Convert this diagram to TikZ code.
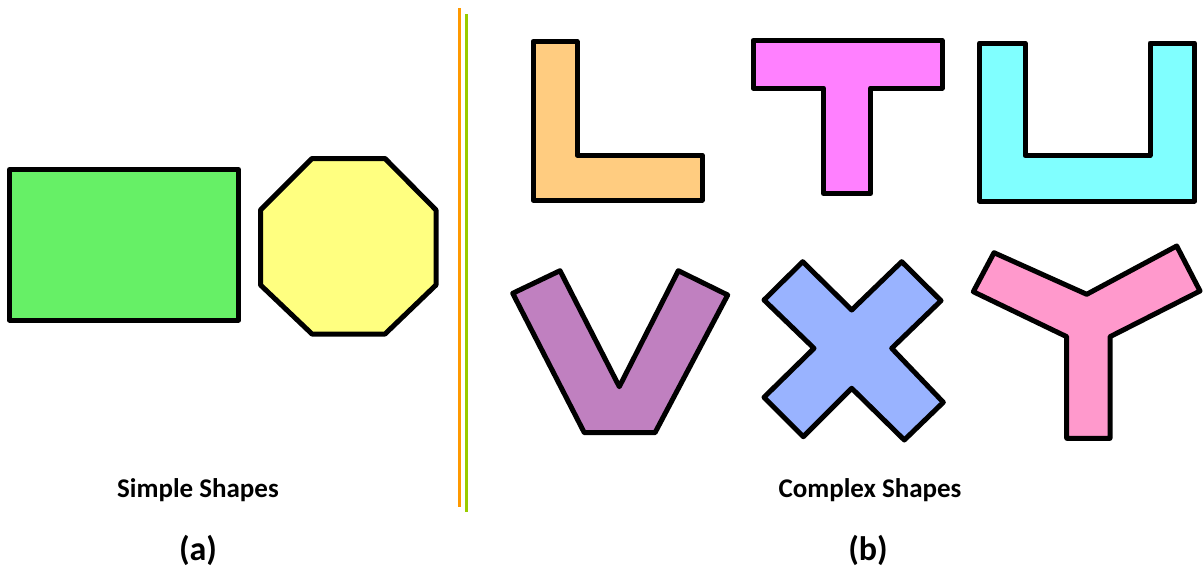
\documentclass[tikz,border=0pt]{standalone}
\usepackage{fontspec}
\setmainfont{Carlito}
\definecolor{cgreen}{HTML}{66F066}
\definecolor{cyellow}{HTML}{FFFF80}
\definecolor{corange}{HTML}{FFCC80}
\definecolor{cmagenta}{HTML}{FF80FF}
\definecolor{ccyan}{HTML}{80FFFF}
\definecolor{cpurple}{HTML}{C080C0}
\definecolor{cblue}{HTML}{99B3FF}
\definecolor{cpink}{HTML}{FF99CC}
\definecolor{lorange}{HTML}{FF9900}
\definecolor{lgreen}{HTML}{99CC00}
\tikzset{
  shp/.style={draw=black, line width=2.5pt, line join=round},
  lbl/.style={font=\bfseries\fontsize{13.5}{16}\selectfont, inner sep=0pt, anchor=center},
  sublbl/.style={font=\bfseries\fontsize{17}{20}\selectfont, inner sep=0pt, anchor=center}
}
\begin{document}
\begin{tikzpicture}[x=0.5pt,y=-0.5pt]
\path[use as bounding box] (0,0) rectangle (1203,573);
% simple shapes
\draw[shp, fill=cgreen] (9.5,169.5) rectangle (238.5,320);
\draw[shp, fill=cyellow] (312,158.5) -- (385,158.5) -- (436,210) -- (436,285) -- (385,334) -- (312,334) -- (260.5,285) -- (260.5,210) -- cycle;
% separator lines
\draw[lorange, line width=1.6pt] (459.5,8) -- (459.5,507);
\draw[lgreen, line width=1.6pt] (466.5,14) -- (466.5,512);
% L
\draw[shp, fill=corange] (533,41.5) -- (577,41.5) -- (577,155) -- (702,155) -- (702,200) -- (533,200) -- cycle;
% T
\draw[shp, fill=cmagenta] (753,40.5) -- (942,40.5) -- (942,88) -- (870.5,88) -- (870.5,193.5) -- (823.5,193.5) -- (823.5,88) -- (753,88) -- cycle;
% U
\draw[shp, fill=ccyan] (979.5,43) -- (1025,43) -- (1025,155.5) -- (1150,155.5) -- (1150,43) -- (1194.5,43) -- (1194.5,201) -- (979.5,201) -- cycle;
% V
\draw[shp, fill=cpurple] (512.7,293.3) -- (560,270.7) -- (619.3,386.7) -- (678.3,270.7) -- (727.7,295) -- (655,432.7) -- (584.3,432.7) -- cycle;
% X
\draw[shp, fill=cblue] (802.7,261.7) -- (851.7,310) -- (901.7,261.7) -- (941,300.7) -- (891.7,348.3) -- (943.3,402.3) -- (904.3,440) -- (851.7,388.3) -- (803.3,436.7) -- (764,397.3) -- (814,348.3) -- (764,300) -- cycle;
% Y
\draw[shp, fill=cpink] (994,252.7) -- (1086.7,294.3) -- (1176.7,246) -- (1200,291) -- (1110,336.7) -- (1110,438.3) -- (1066.7,438.3) -- (1066.7,336.7) -- (973.3,291.7) -- cycle;
% labels
\node[lbl] (simple) at (198,490) {Simple Shapes};
\node[sublbl] (a) at (198,550) {(a)};
\node[lbl] (complex) at (870,490) {Complex Shapes};
\node[sublbl] (b) at (868,550) {(b)};
\end{tikzpicture}
\end{document}
